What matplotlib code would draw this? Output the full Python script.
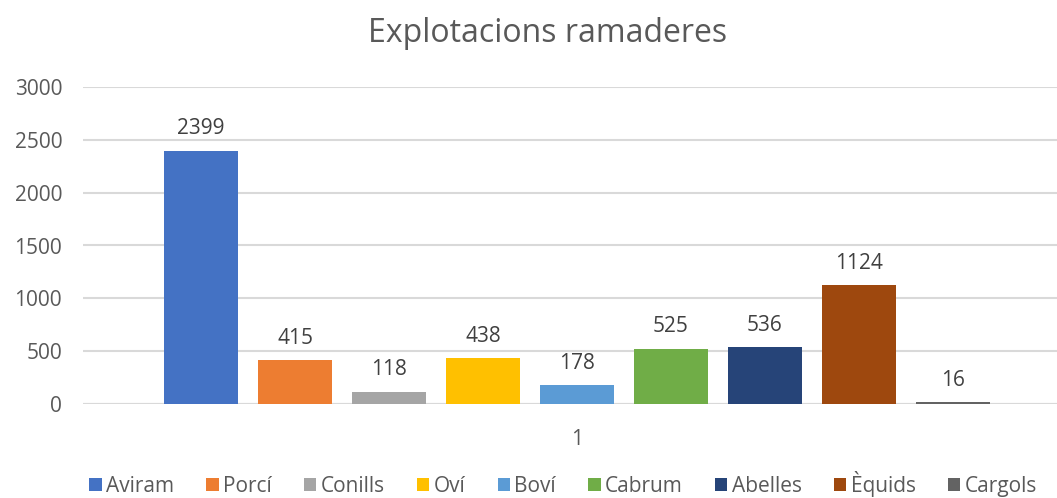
import matplotlib.pyplot as plt

plt.rcParams['font.family'] = ['Open Sans', 'DejaVu Sans']

# dades de la gràfica
especies = ['Aviram', 'Porcí', 'Conills', 'Oví', 'Boví', 'Cabrum', 'Abelles', 'Èquids', 'Cargols']
explotacions = [2399, 415, 118, 438, 178, 525, 536, 1124, 16]
colors = ['#4472C4', '#ED7D31', '#A5A5A5', '#FFC000', '#5B9BD5',
          '#70AD47', '#264478', '#9E480E', '#636363']
categoria = '1'

fig = plt.figure(figsize=(10.57, 4.98), dpi=100)
# area de dibuix (en pixels: esquerra 83, baix 404, dalt 87)
ax = fig.add_axes([83 / 1057, 1 - 404 / 498, 1 - 83 / 1057, 317 / 498])

text_gris = '#595959'
grid_gris = '#D9D9D9'

for i, (nom, val, col) in enumerate(zip(especies, explotacions, colors)):
    ax.bar(i, val, width=74 / 94, color=col, label=nom, zorder=3)
    ax.annotate(str(val), (i, val), xytext=(0, 8), textcoords='offset points',
                ha='center', va='bottom', fontsize=15, color='#404040')

ax.set_ylim(0, 3000)
ax.set_xlim((83 - 201) / 94, (1057 - 201) / 94)
ax.set_yticks(range(0, 3001, 500))
ax.set_xticks([4])
ax.set_xticklabels([categoria])
ax.yaxis.grid(True, color=grid_gris, linewidth=1.5, zorder=0)
ax.tick_params(axis='both', length=0, labelsize=15, labelcolor=text_gris)
ax.tick_params(axis='y', pad=15)
ax.tick_params(axis='x', pad=18)
for s in ax.spines.values():
    s.set_visible(False)
ax.axhline(0, color=grid_gris, linewidth=1.5, zorder=2)

fig.text(548 / 1057, 1 - 33 / 498, 'Explotacions ramaderes', ha='center', va='center',
         fontsize=23, color=text_gris)

fig.legend(loc='center', bbox_to_anchor=(563 / 1057, 1 - 484 / 498), ncol=9,
           frameon=False, fontsize=15, labelcolor=text_gris, borderpad=0.1,
           handlelength=0.6, handleheight=0.6, handletextpad=0.2, columnspacing=1.55)

fig.savefig('out.png', dpi=100)
